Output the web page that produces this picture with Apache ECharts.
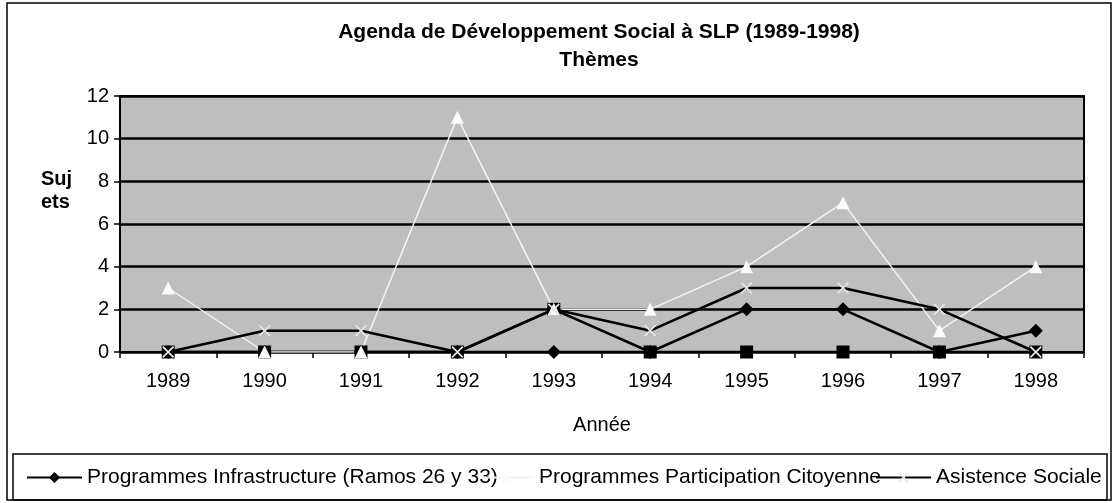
<!DOCTYPE html>
<html>
<head>
<meta charset="utf-8">
<script src="https://cdn.jsdelivr.net/npm/echarts@6/dist/echarts.min.js"></script>
<style>
  html, body { margin: 0; padding: 0; background: #fff; }
  #chart { width: 1115px; height: 503px; }
</style>
</head>
<body>
<div id="chart"></div>
<script>
// Years on the category axis
const years = ['1989', '1990', '1991', '1992', '1993', '1994', '1995', '1996', '1997', '1998'];

// Number of subjects per year and theme
const infrastructure = [0, 0, 0, 0, 0, 0, 2, 2, 0, 1];
const serie2 = [0, 0, 0, 0, 2, 0, 0, 0, 0, 0];
const participation = [3, 0, 0, 11, 2, 2, 4, 7, 1, 4];
const asistencia = [0, 1, 1, 0, 2, 1, 3, 3, 2, 0];

// Value axis range
const yMin = 0, yMax = 12, yStep = 2;

const names = {
  infra: 'Programmes Infrastructure (Ramos 26 y 33)',
  s2: 'Série 2',
  part: 'Programmes Participation Citoyenne',
  asis: 'Asistence Sociale'
};

const FONT = '"Liberation Sans", Arial, sans-serif';
const crossPath = 'path://M0,1L1,0L5,4L9,0L10,1L6,5L10,9L9,10L5,6L1,10L0,9L4,5Z';

const chart = echarts.init(document.getElementById('chart'), null, { renderer: 'canvas' });

const legendText = { color: '#000', fontSize: 21, fontFamily: FONT };
const legendBase = { top: 462, itemWidth: 55, itemHeight: 14, itemGap: 0, textStyle: legendText, selectedMode: false };

chart.setOption({
  animation: false,
  backgroundColor: '#fff',
  title: {
    text: 'Agenda de Développement Social à SLP (1989-1998)\nThèmes',
    left: 594,
    top: 13,
    textAlign: 'center',
    textStyle: { color: '#000', fontSize: 21, fontWeight: 'bold', fontFamily: FONT, lineHeight: 28 }
  },
  grid: {
    left: 120, right: 31, top: 96, bottom: 151,
    show: true, backgroundColor: '#bebebe', borderColor: '#000', borderWidth: 2
  },
  legend: [
    Object.assign({ data: [names.infra], left: 21 }, legendBase),
    Object.assign({ data: [names.part], left: 473 }, legendBase),
    Object.assign({ data: [names.asis], left: 870 }, legendBase)
  ],
  xAxis: {
    type: 'category',
    data: years,
    boundaryGap: true,
    name: 'Année',
    nameLocation: 'middle',
    nameGap: 63,
    nameTextStyle: { color: '#000', fontSize: 20, fontFamily: FONT },
    axisLine: { show: true, lineStyle: { color: '#000', width: 2 } },
    axisTick: { show: true, length: 6, lineStyle: { color: '#000', width: 1.5 } },
    axisLabel: { color: '#000', fontSize: 20, fontFamily: FONT, margin: 19 },
    splitLine: { show: false }
  },
  yAxis: {
    type: 'value',
    min: yMin, max: yMax, interval: yStep,
    axisLine: { show: true, lineStyle: { color: '#000', width: 2 } },
    axisTick: { show: true, length: 6, lineStyle: { color: '#000', width: 1.5 } },
    axisLabel: { color: '#000', fontSize: 20, fontFamily: FONT, margin: 11 },
    splitLine: { show: true, lineStyle: { color: '#000', width: 2.5 } }
  },
  graphic: [
    { type: 'rect', shape: { x: 7, y: 3, width: 1104, height: 497 }, style: { fill: 'none', stroke: '#000', lineWidth: 1.5 }, silent: true },
    { type: 'rect', shape: { x: 13, y: 454, width: 1094, height: 46 }, style: { fill: 'none', stroke: '#000', lineWidth: 1.5 }, silent: true },
    { type: 'text', left: 41, top: 168, style: { text: 'Suj\nets', fill: '#000', font: 'bold 20px ' + FONT, lineHeight: 23 }, silent: true }
  ],
  series: [
    {
      name: names.infra, type: 'line', data: infrastructure,
      symbol: 'diamond', symbolSize: 14,
      lineStyle: { color: '#000', width: 2.5 },
      itemStyle: { color: '#000' }
    },
    {
      name: names.s2, type: 'line', data: serie2,
      symbol: 'rect', symbolSize: 13,
      lineStyle: { color: '#000', width: 2.5 },
      itemStyle: { color: '#000' }
    },
    {
      name: names.part, type: 'line', data: participation,
      symbol: 'triangle', symbolSize: 13,
      lineStyle: { color: '#f4f4f4', width: 1.5 },
      itemStyle: { color: '#fafafa' }
    },
    {
      name: names.asis, type: 'line', data: asistencia,
      symbol: crossPath, symbolSize: 12,
      lineStyle: { color: '#000', width: 2.5 },
      itemStyle: { color: '#e8e8e8' }
    }
  ]
});
</script>
</body>
</html>
